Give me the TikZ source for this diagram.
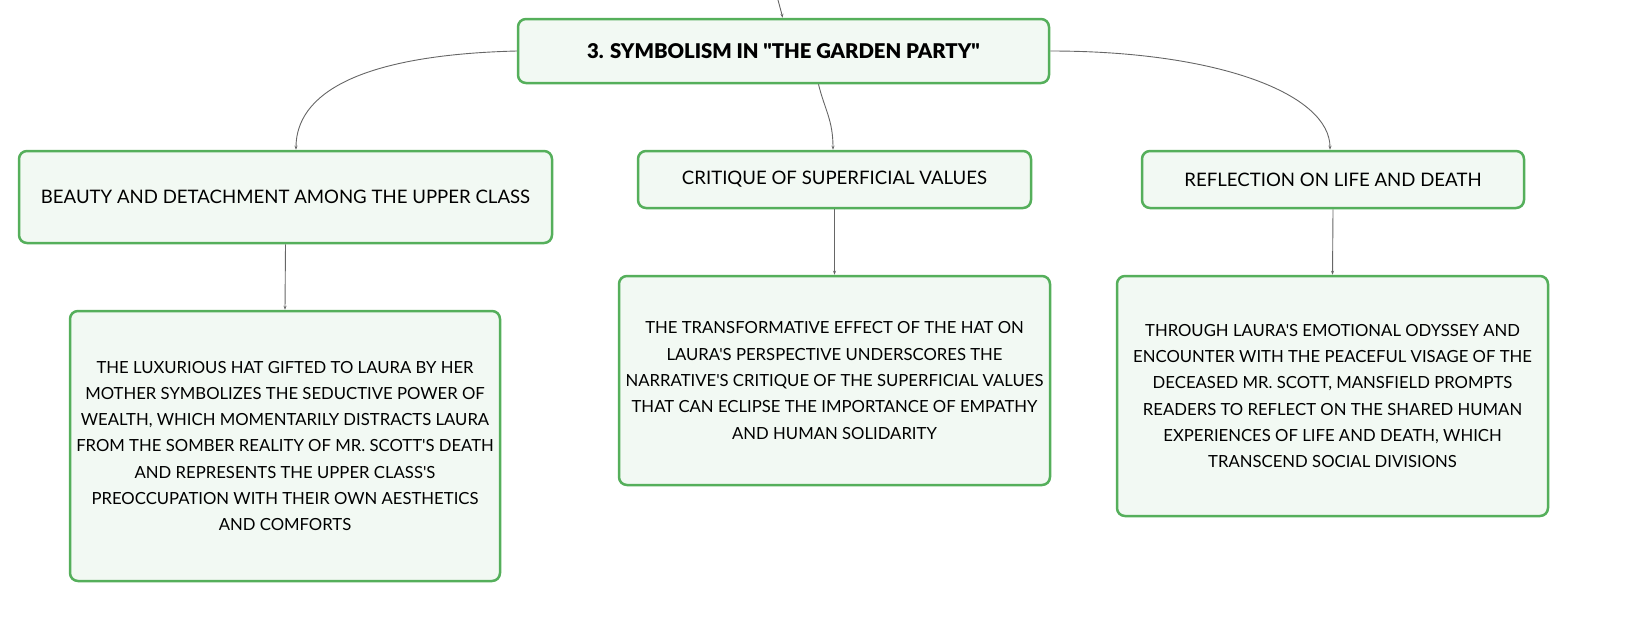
\documentclass[tikz,border=0pt]{standalone}
\usepackage{fontspec}
\setmainfont{Lato}[Ligatures=TeXOff]
\newfontfamily\titlefont{Lato Black}[Ligatures=TeXOff]
\usetikzlibrary{arrows.meta}
\definecolor{bd}{HTML}{55AF5B}
\definecolor{fl}{HTML}{F2F9F3}
\definecolor{ln}{HTML}{666666}
\begin{document}
\begin{tikzpicture}[x=1pt,y=-1pt,
  box/.style={draw=bd, line width=2.5pt, fill=fl, rounded corners=8pt, inner sep=0pt, align=center},
  head/.style={box, font=\fontsize{18.6}{22}\selectfont},
  body/.style={box, font=\fontsize{16.7}{26.3}\selectfont},
  conn/.style={draw=ln, line width=0.9pt, -{Stealth[length=4pt,width=3pt]}}]
\useasboundingbox (0,0) rectangle (1632,627);
\node[box, minimum width=531pt, minimum height=64pt, font=\titlefont\fontsize{20.3}{24}\selectfont] (title) at (783.5,51) {3. SYMBOLISM IN "THE GARDEN PARTY"};
\node[head, minimum width=533pt, minimum height=92pt] (b1) at (285.5,197) {BEAUTY AND DETACHMENT AMONG THE UPPER CLASS};
\node[head, minimum width=393pt, minimum height=57pt] (c1) at (834.5,179.5) {CRITIQUE OF SUPERFICIAL VALUES};
\node[head, minimum width=382pt, minimum height=57pt] (r1) at (1333,179.5) {REFLECTION ON LIFE AND DEATH};
\node[body, minimum width=430pt, minimum height=270pt] (b2) at (285,446) {THE LUXURIOUS HAT GIFTED TO LAURA BY HER\\MOTHER SYMBOLIZES THE SEDUCTIVE POWER OF\\WEALTH, WHICH MOMENTARILY DISTRACTS LAURA\\FROM THE SOMBER REALITY OF MR. SCOTT'S DEATH\\AND REPRESENTS THE UPPER CLASS'S\\PREOCCUPATION WITH THEIR OWN AESTHETICS\\AND COMFORTS};
\node[body, minimum width=431pt, minimum height=209pt] (c2) at (834.5,380.5) {THE TRANSFORMATIVE EFFECT OF THE HAT ON\\LAURA'S PERSPECTIVE UNDERSCORES THE\\NARRATIVE'S CRITIQUE OF THE SUPERFICIAL VALUES\\THAT CAN ECLIPSE THE IMPORTANCE OF EMPATHY\\AND HUMAN SOLIDARITY};
\node[body, minimum width=431pt, minimum height=240pt] (r2) at (1332.5,396) {THROUGH LAURA'S EMOTIONAL ODYSSEY AND\\ENCOUNTER WITH THE PEACEFUL VISAGE OF THE\\DECEASED MR. SCOTT, MANSFIELD PROMPTS\\READERS TO REFLECT ON THE SHARED HUMAN\\EXPERIENCES OF LIFE AND DEATH, WHICH\\TRANSCEND SOCIAL DIVISIONS};
\coordinate (top) at (778,0);
\draw[conn] (top) .. controls (781,8) .. ([xshift=-1pt]title.north);
\draw[conn] (title.west) .. controls +(-160,4) and +(0,-55) .. ([xshift=10.5pt]b1.north);
\draw[conn] ([xshift=35pt]title.south) .. controls +(6,25) and +(0,-30) .. ([xshift=-1.5pt]c1.north);
\draw[conn] (title.east) .. controls +(170,0) and +(0,-55) .. ([xshift=-3pt]r1.north);
\draw[conn] (b1.south) -- (b2.north);
\draw[conn] (c1.south) -- (c2.north);
\draw[conn] (r1.south) -- (r2.north);
\end{tikzpicture}
\end{document}
